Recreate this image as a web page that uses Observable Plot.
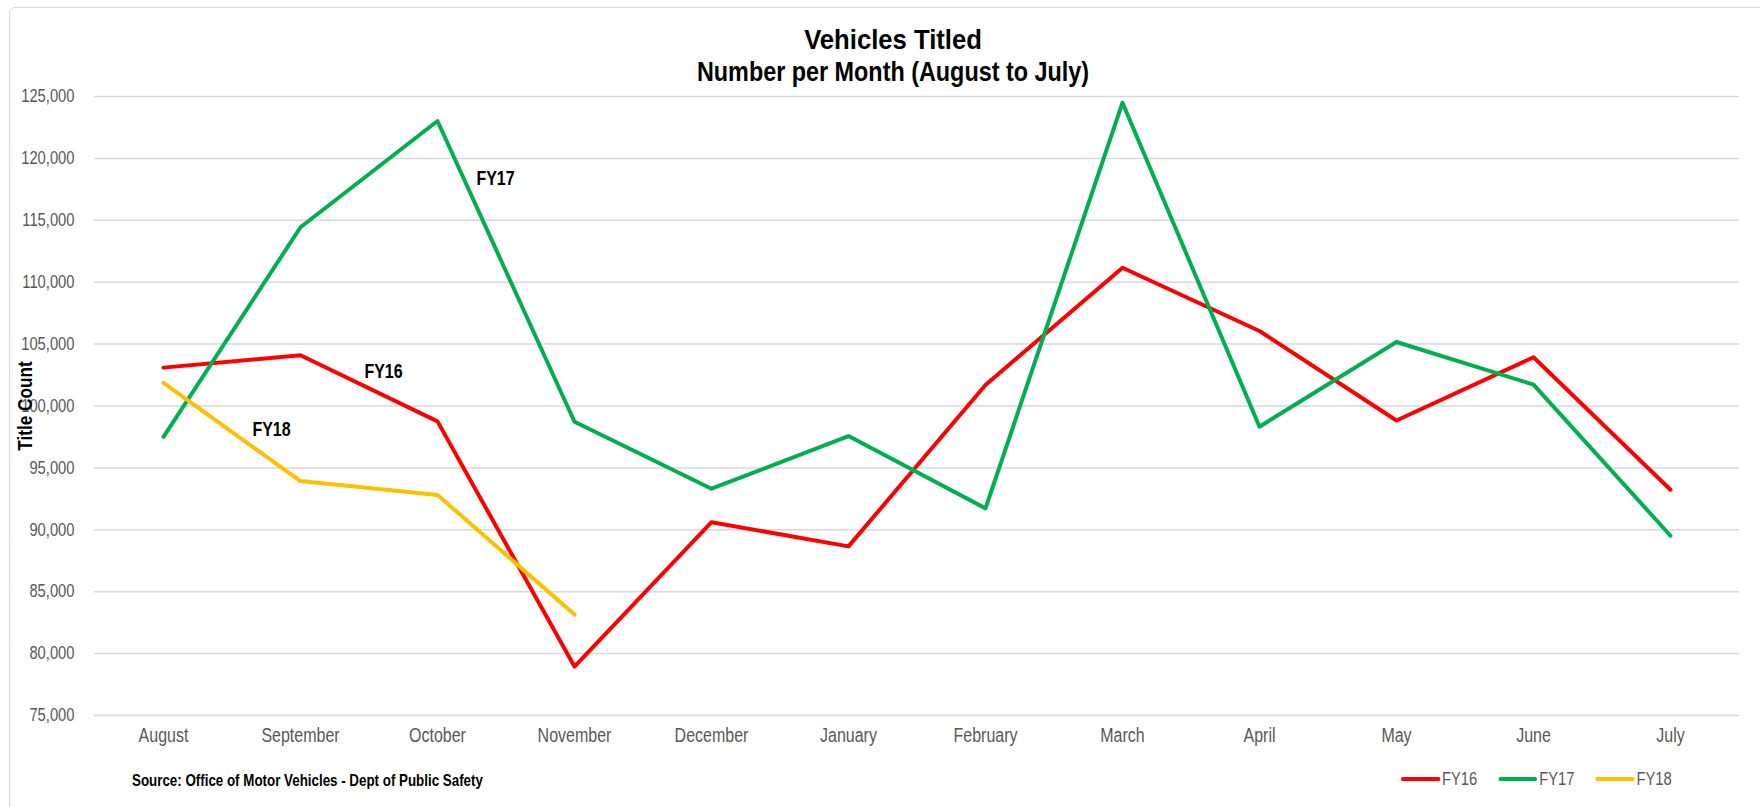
<!DOCTYPE html>
<html>
<head>
<meta charset="utf-8">
<script src="https://cdn.jsdelivr.net/npm/d3@7"></script>
<script src="https://cdn.jsdelivr.net/npm/@observablehq/plot@0.6"></script>
<style>
  html, body { margin: 0; padding: 0; background: #fff; overflow: hidden; }
  #wrap { position: relative; width: 1760px; height: 807px; overflow: hidden;
    font-family: "Liberation Sans", Arial, sans-serif; }
  #border { position: absolute; left: 9px; top: 7px; width: 1780px; height: 830px;
    border: 1.5px solid #d9d9d9; border-radius: 6px; box-sizing: border-box; }
  #chart { position: absolute; left: 0; top: 0; }
  #title { position: absolute; left: 493px; width: 800px; top: 23px;
    text-align: center; font-weight: bold; font-size: 28.5px; line-height: 32px; color: #000; white-space: nowrap; }
  #title div { transform: scaleX(0.82); }
  #title div.l1 { transform: scaleX(0.9); }
  #source { position: absolute; left: 132px; top: 770px; transform-origin: 0 50%; transform: scaleX(0.82);
    font-weight: bold; font-size: 16.3px; line-height: 20px; color: #000; white-space: nowrap; }
  #legend { position: absolute; left: 1401px; top: 768px; display: flex; align-items: center;
    transform-origin: 0 50%; transform: scaleX(0.82);
    font-size: 18px; line-height: 22px; color: #595959; }
  .item { display: flex; align-items: center; margin-right: 25.6px; }
  .sw { width: 47.6px; height: 4.5px; border-radius: 3px; margin-right: 2.4px; }
</style>
</head>
<body>
<div id="wrap">
  <div id="border"></div>
  <div id="chart"></div>
  <div id="title"></div>
  <div id="source"></div>
  <div id="legend"></div>
</div>
<script>
const months = ["August", "September", "October", "November", "December", "January",
  "February", "March", "April", "May", "June", "July"];
const seriesNames = ["FY16", "FY17", "FY18"];
const seriesColors = ["#ff0000", "#00b050", "#ffc000"];
const fy16 = [103100, 104100, 98760, 78950, 90610, 88660, 101700, 111170, 106060, 98830, 103940, 93240];
const fy17 = [97500, 114440, 123020, 98730, 93320, 97570, 91730, 124500, 98330, 105170, 101730, 89520];
const fy18 = [101860, 93940, 92820, 83150];
const yTicks = [75000, 80000, 85000, 90000, 95000, 100000, 105000, 110000, 115000, 120000, 125000];
const titleLines = ["Vehicles Titled", "Number per Month (August to July)"];
const yLabel = "Title Count";
const sourceText = "Source: Office of Motor Vehicles - Dept of Public Safety";
// in-chart series labels (anchor month + value)
const labelText = ["FY17", "FY16", "FY18"];
const labelMonth = ["October", "September", "September"];
const labelValue = [118340, 102750, 98100];

const seriesValues = [fy16, fy17, fy18];
const rows = [];
seriesValues.forEach((vals, i) => {
  vals.forEach((v, j) => rows.push({series: seriesNames[i], month: months[j], value: v}));
});
const labels = labelText.map((t, i) => ({text: t, month: labelMonth[i], value: labelValue[i]}));

const font = '"Liberation Sans", Arial, sans-serif';
const fmt = d3.format(",");

const chart = Plot.plot({
  width: 1760,
  height: 807,
  marginLeft: 94,
  marginRight: 21,
  marginTop: 96,
  marginBottom: 92,
  style: {fontFamily: font, background: "transparent", overflow: "visible"},
  x: {type: "point", domain: months, padding: 0.5, label: null},
  y: {domain: [75000, 125000], label: null},
  color: {domain: seriesNames, range: seriesColors},
  marks: [
    Plot.gridY(yTicks, {stroke: "#d9d9d9", strokeOpacity: 1, strokeWidth: 1.5}),
    Plot.axisY(yTicks, {tickSize: 0, tickPadding: 20, fontSize: 18, fill: "#595959", tickFormat: fmt, label: null}),
    Plot.axisX({tickSize: 0, tickPadding: 13, fontSize: 19.5, fill: "#595959", label: null}),
    Plot.text([yLabel], {frameAnchor: "left", text: d => d, rotate: -90, dx: -69, textAnchor: "middle",
      fontSize: 21, fontWeight: "bold", fill: "#000"}),
    Plot.line(rows, {x: "month", y: "value", z: "series", stroke: "series", strokeWidth: 4,
      strokeLinejoin: "round", strokeLinecap: "round"}),
    Plot.text(labels.filter(d => d.text === "FY17"), {x: "month", y: "value", text: "text", dx: 58,
      fontSize: 19.5, fontWeight: "bold", fill: "#000"}),
    Plot.text(labels.filter(d => d.text === "FY16"), {x: "month", y: "value", text: "text", dx: 83,
      fontSize: 19.5, fontWeight: "bold", fill: "#000"}),
    Plot.text(labels.filter(d => d.text === "FY18"), {x: "month", y: "value", text: "text", dx: -29,
      fontSize: 19.5, fontWeight: "bold", fill: "#000"})
  ]
});

// narrow the glyphs (Arial Narrow look) around each text's own anchor
for (const t of chart.querySelectorAll("text")) {
  const tr = t.getAttribute("transform") || "";
  const xa = t.getAttribute("x");
  let pre = "";
  if (xa !== null && !isNaN(+xa)) { pre = `translate(${+xa},0)`; t.removeAttribute("x"); }
  t.setAttribute("transform", `${tr} ${pre} scale(0.82,1)`.trim());
}
document.getElementById("chart").appendChild(chart);

document.getElementById("title").innerHTML = titleLines.map((t, i) => `<div class="l${i + 1}">${t}</div>`).join("");
document.getElementById("source").textContent = sourceText;
document.getElementById("legend").innerHTML = seriesNames.map((n, i) =>
  `<div class="item"><div class="sw" style="background:${seriesColors[i]}"></div><span>${n}</span></div>`).join("");
</script>
</body>
</html>
